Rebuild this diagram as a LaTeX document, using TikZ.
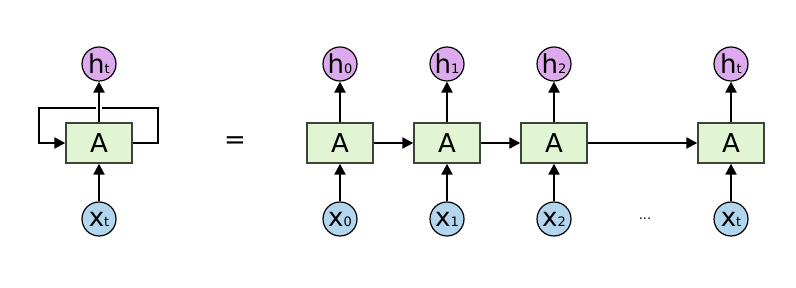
\documentclass[tikz,border=0pt]{standalone}
\usepackage{fontspec}
\setmainfont{DejaVu Sans}
\usetikzlibrary{arrows.meta}
\definecolor{cellgreen}{HTML}{E2F5D2}
\definecolor{hviolet}{HTML}{DDAAEE}
\definecolor{xblue}{HTML}{B2D6EE}
\definecolor{edgegray}{HTML}{3A4438}
\providecommand{\lbl}[2]{#1{\fontsize{13}{13}\selectfont #2}}

\begin{document}
\begin{tikzpicture}[x=1pt,y=1pt,font=\fontsize{26}{26}\selectfont,
    >={Triangle[length=11pt,width=11pt]},
    cell/.style={draw=edgegray,line width=1.4pt,fill=cellgreen,minimum width=66pt,minimum height=40pt,inner sep=0pt},
    hnode/.style={circle,draw=black,line width=1.2pt,fill=hviolet,minimum size=34pt,inner sep=0pt},
    xnode/.style={circle,draw=black,line width=1.2pt,fill=xblue,minimum size=34pt,inner sep=0pt},
    flow/.style={->,line width=2.2pt}]
  \useasboundingbox (0,0) rectangle (796,288);
  % ---------------- folded network with its loop
  \node[cell] (A) at (99,145) {A};
  \node[hnode] (h) at (99,224) {\lbl{h}{t}};
  \node[xnode] (x) at (99,69) {\lbl{x}{t}};
  \draw[flow] (A.east) -- (158,145) -- (158,180) -- (39,180) -- (39,145) -- (A.west);
  \draw[flow,preaction={draw=white,line width=6pt,shorten <=5pt,shorten >=12pt,-}] (A) -- (h);
  \draw[flow] (x) -- (A);
  \node (eq) at (235,145) {=};
  % ---------------- unrolled in time
  \foreach \name/\px/\sub in {c0/340/0,c1/447/1,c2/554/2,cn/731/t}{
    \node[cell] (\name) at (\px,145) {A};
    \node[hnode] (h\name) at (\px,224) {\lbl{h}{\sub}};
    \node[xnode] (x\name) at (\px,69) {\lbl{x}{\sub}};
    \draw[flow] (\name) -- (h\name);
    \draw[flow] (x\name) -- (\name);
  }
  \draw[flow] (c0) -- (c1);
  \draw[flow] (c1) -- (c2);
  \draw[flow] (c2) -- (cn);
  \node[font=\fontsize{13}{13}\selectfont] (dots) at (645,69) {...};
\end{tikzpicture}
\end{document}
